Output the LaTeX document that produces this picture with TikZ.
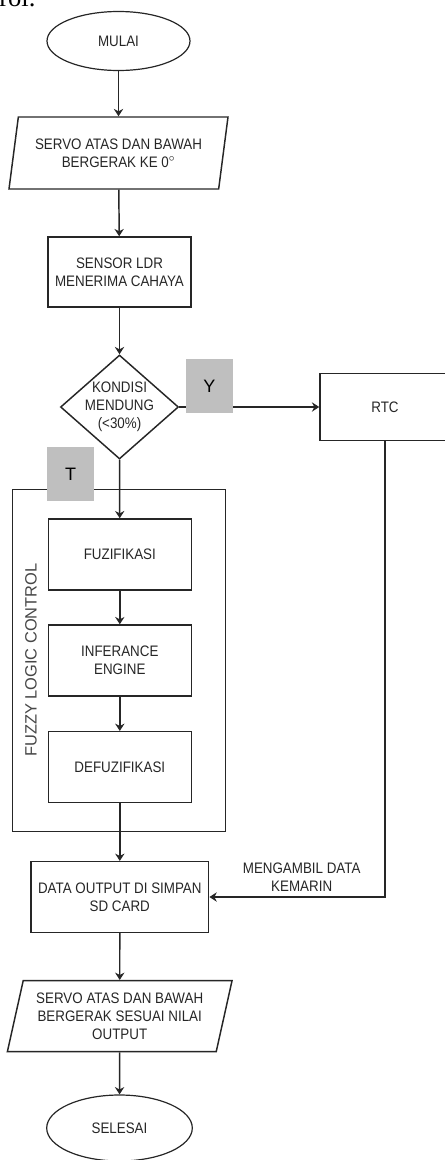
\documentclass[tikz,border=0pt]{standalone}
\usepackage{fontspec}
\setmainfont{Liberation Sans}[FakeStretch=0.88]
\newfontfamily\judulfont{Liberation Sans}
\newfontfamily\seriffont{Liberation Serif}
\usepackage{xcolor}
\usepackage{tikz}
\usetikzlibrary{shapes.geometric, positioning, arrows.meta}
\definecolor{garis}{HTML}{262626}
\definecolor{abu}{HTML}{BFBFBF}

\begin{document}
\begin{tikzpicture}[x=0.75pt, y=-0.75pt, >={Stealth[length=5.5pt, width=7pt]},
    every node/.style={text=garis, font=\fontsize{11.4}{13.5}\selectfont},
    proses/.style={draw=garis, line width=1.1pt, rectangle, align=center, inner sep=0pt,
        minimum width=107.25pt, minimum height=53.25pt},
    terminal/.style={draw=garis, line width=0.9pt, ellipse, inner sep=0pt},
    io/.style={draw=garis, line width=1.1pt, trapezium, trapezium stretches body,
        trapezium left angle=72, trapezium right angle=108, align=center, inner sep=0pt},
    keputusan/.style={draw=garis, line width=1.1pt, diamond, inner sep=0pt,
        minimum width=88.5pt, minimum height=78pt},
    tanda/.style={fill=abu, inner sep=0pt, text=black,
        font=\judulfont\fontsize{13.5}{14}\selectfont}]
    \useasboundingbox (0,0) rectangle (445,1160);
    \clip (0,0) rectangle (445,1160);

    % potongan teks dokumen di atas gambar
    \node[anchor=base west, inner sep=0pt, text=black,
        font=\seriffont\fontsize{20}{20}\selectfont] (potongan) at (-1,7) {rol.};

    % 1. Kotak fuzzy logic control
    \node[draw=garis, line width=1.1pt, minimum width=159.75pt, minimum height=256.8pt]
        (flc) at (118.8,660.5) {};
    \node[rotate=90, text=garis!85, font=\judulfont\fontsize{12.3}{14}\selectfont]
        (judul) at (31,660) {FUZZY LOGIC CONTROL};

    % 2. Simbol alur
    \node[terminal, minimum width=107.25pt, minimum height=44.25pt] (mulai) at (118.5,41) {MULAI};
    \node[io, minimum width=164.25pt, minimum height=54pt] (servo1) at (118.5,153)
        {SERVO ATAS DAN BAWAH\\BERGERAK KE 0$^{\circ}$};
    \node[proses, minimum height=52.5pt] (sensor) at (119.5,272) {SENSOR LDR\\MENERIMA CAHAYA};
    \node[keputusan] (kondisi) at (119.5,407) {};
    \node[align=center] (kondisiteks) at (kondisi) {KONDISI\\MENDUNG\\(<30\%)};
    \node[proses, minimum width=97.5pt, minimum height=50.5pt] (rtc) at (385,407) {RTC};
    \node[proses] (fuzi) at (119.8,554.5) {FUZIFIKASI};
    \node[proses] (infer) at (119.8,660.5) {INFERANCE\\ENGINE};
    \node[proses] (defuzi) at (119.8,767.2) {DEFUZIFIKASI};
    \node[proses, minimum width=133.3pt, minimum height=53pt] (simpan) at (119.8,897)
        {DATA OUTPUT DI SIMPAN\\SD CARD};
    \node[io, trapezium left angle=71.3, trapezium right angle=108.7,
        minimum width=168.5pt, minimum height=53.25pt] (servo2) at (119.7,1016.2)
        {SERVO ATAS DAN BAWAH\\BERGERAK SESUAI NILAI\\OUTPUT};
    \node[terminal, minimum width=109.2pt, minimum height=49.5pt] (selesai) at (119.5,1128) {SELESAI};
    \node[align=center] (ket) at (301.7,876.7) {MENGAMBIL DATA\\KEMARIN};

    % 3. Garis alur
    \begin{scope}[draw=garis, line width=1.1pt]
        \draw[->] (mulai) -- (servo1);
        \draw[->] (servo1) -- (sensor);
        \draw[->] (sensor) -- (kondisi);
        \draw[->] (kondisi) -- (rtc);
        \draw[->] (kondisi) -- (fuzi);
        \draw[->] (fuzi) -- (infer);
        \draw[->] (infer) -- (defuzi);
        \draw[->] (defuzi) -- (simpan);
        \draw[->] (rtc) |- (simpan);
        \draw[->] (simpan) -- (servo2);
        \draw[->] (servo2) -- (selesai);
    \end{scope}

    % 4. Tanda Y / T
    \node[tanda, minimum width=35pt, minimum height=40.3pt] (ya) at (209.3,386) {Y};
    \node[tanda, minimum width=34.8pt, minimum height=40pt] (tidak) at (70.5,474) {T};
\end{tikzpicture}
\end{document}
